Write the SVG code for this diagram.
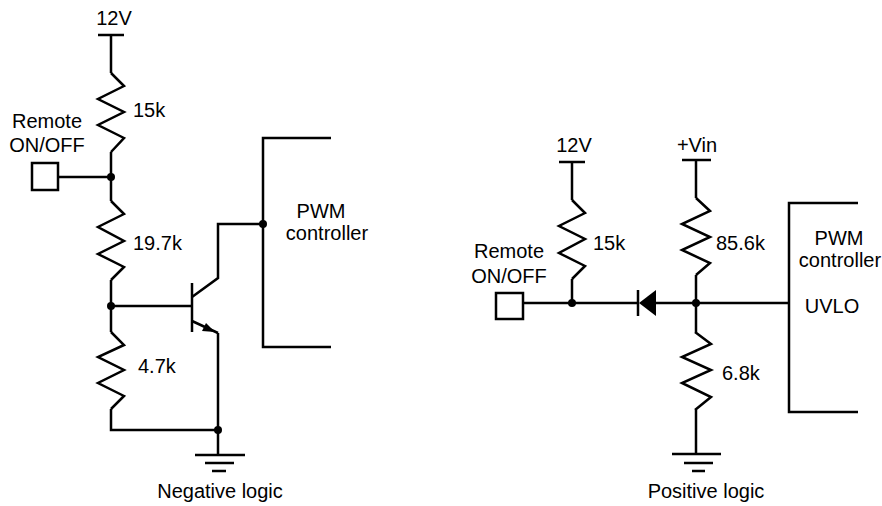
<svg xmlns="http://www.w3.org/2000/svg" width="882" height="506" viewBox="0 0 882 506">
<style>
.w{fill:none;stroke:#000;stroke-width:2.5;stroke-linejoin:miter;stroke-linecap:butt}
.d{fill:#000;stroke:none}
.t{font-family:"Liberation Sans",Arial,sans-serif;font-size:20px;fill:#000}
.m{text-anchor:middle}
</style>
<rect width="882" height="506" fill="#fff"/>
<g id="connectors">
<!-- left circuit -->
<path class="w" d="M98,35H124M111,35V73"/>
<path class="w" d="M111,152V201"/>
<path class="w" d="M58,177H111"/>
<path class="w" d="M111,280V332"/>
<path class="w" d="M111,306H192"/>
<path class="w" d="M111,409V430H218"/>
<path class="w" d="M192,297L218,278V224H263"/>
<path class="w" d="M218,333V455"/>
<path class="w" d="M331,138H263V347H331"/>
<!-- right circuit -->
<path class="w" d="M559,162H585M572,162V200"/>
<path class="w" d="M572,279V303"/>
<path class="w" d="M523,303H638"/>
<path class="w" d="M656,303H789"/>
<path class="w" d="M682,160H711M696,160V198"/>
<path class="w" d="M696,275V332"/>
<path class="w" d="M696,410V454"/>
<path class="w" d="M858,203H789V412H858"/>
</g>
<g id="v12-left"><text class="t m" x="114" y="25">12V</text></g>
<g id="r15k-left">
<path class="w" d="M111,73L124,86L98,99L124,112L98,125L124,138L111,152"/>
<text class="t" x="133" y="117">15k</text>
</g>
<g id="remote-left">
<rect class="w" x="32" y="163" width="26" height="27"/>
<text class="t m" x="47" y="128">Remote</text>
<text class="t m" x="47" y="152">ON/OFF</text>
</g>
<g id="r197k">
<path class="w" d="M111,201L124,214L98,227L124,241L98,254L124,267L111,280"/>
<text class="t" x="133" y="250">19.7k</text>
</g>
<g id="r47k">
<path class="w" d="M111,332L124,345L98,357L124,370L98,383L124,396L111,409"/>
<text class="t" x="138" y="373">4.7k</text>
</g>
<g id="transistor">
<path class="w" d="M192,283V332"/>
<path class="w" d="M192,321L218,333"/>
<path class="d" d="M215,332L202,331L206,323Z"/>
</g>
<g id="junctions">
<circle class="d" cx="111" cy="177" r="4"/>
<circle class="d" cx="111" cy="306" r="4"/>
<circle class="d" cx="263" cy="224" r="4"/>
<circle class="d" cx="218" cy="430" r="4"/>
<circle class="d" cx="572" cy="303" r="4"/>
<circle class="d" cx="696" cy="303" r="4"/>
</g>
<g id="gnd-left">
<path class="w" d="M195,455H245M205,463H234M212,471H226"/>
</g>
<g id="pwm-left">
<text class="t m" x="321" y="218">PWM</text>
<text class="t m" x="327" y="240">controller</text>
</g>
<g id="label-neg"><text class="t m" x="220" y="498">Negative logic</text></g>
<!-- right -->
<g id="v12-right"><text class="t m" x="574" y="152">12V</text></g>
<g id="r15k-right">
<path class="w" d="M572,200L585,213L559,226L585,239L559,253L585,266L572,279"/>
<text class="t" x="593" y="250">15k</text>
</g>
<g id="remote-right">
<rect class="w" x="496" y="293" width="27" height="26"/>
<text class="t m" x="509" y="258">Remote</text>
<text class="t m" x="509" y="283">ON/OFF</text>
</g>
<g id="diode">
<path class="w" d="M638,290V316"/>
<path class="d" d="M639,303L656,290V316Z"/>
</g>
<g id="vin"><text class="t m" x="697" y="152">+Vin</text></g>
<g id="r856k">
<path class="w" d="M696,198L710,211L682,224L710,237L682,250L710,263L696,275"/>
<text class="t" x="716" y="250">85.6k</text>
</g>
<g id="r68k">
<path class="w" d="M695,332L711,344L682,357L711,370L682,383L711,397L695,410"/>
<text class="t" x="722" y="380">6.8k</text>
</g>
<g id="gnd-right">
<path class="w" d="M672,454H721M684,463H713M692,471H705"/>
</g>
<g id="pwm-right">
<text class="t m" x="839" y="245">PWM</text>
<text class="t m" x="840" y="267">controller</text>
<text class="t m" x="832" y="313">UVLO</text>
</g>
<g id="label-pos"><text class="t m" x="706" y="498">Positive logic</text></g>
</svg>
